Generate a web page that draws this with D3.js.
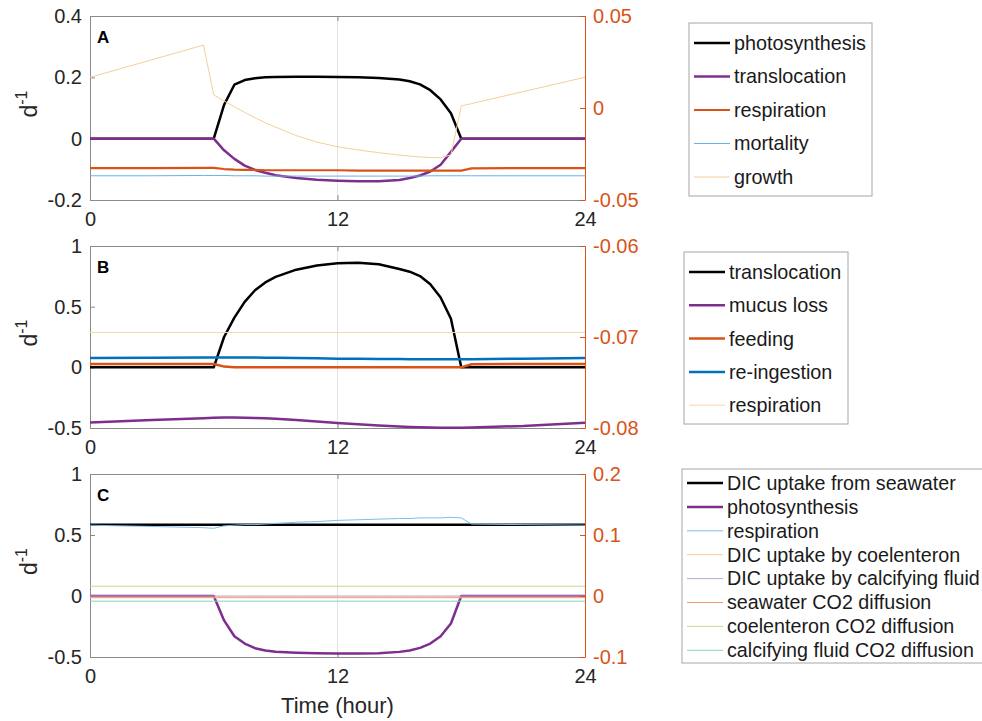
<!DOCTYPE html>
<html>
<head>
<meta charset="utf-8">
<script src="https://cdn.jsdelivr.net/npm/d3@7"></script>
<style>
	body { margin: 0; background: #fff; }
	text { font-family: "Liberation Sans", Arial, Helvetica, sans-serif; }
</style>
</head>
<body>
<div id="chart"></div>
<script>
// time nodes (hour)
var hours = [0, 3, 5.5, 6, 6.5, 7, 7.5, 8, 8.5, 9, 10, 11, 12, 13, 14, 15, 15.5, 16, 16.5, 17, 17.5, 18, 18.5, 21, 24];
var xTicks = [0, 12, 24];

// panel A
var aPhotosynthesis = [0, 0, 0, 0, 0.11, 0.176, 0.191, 0.197, 0.2, 0.201, 0.202, 0.202, 0.201, 0.2, 0.198, 0.193, 0.187, 0.177, 0.158, 0.128, 0.083, 0, 0, 0, 0];
var aTranslocation = [0, 0, 0, 0, -0.038, -0.066, -0.088, -0.102, -0.111, -0.119, -0.128, -0.134, -0.137, -0.139, -0.139, -0.135, -0.128, -0.12, -0.107, -0.085, -0.043, 0, 0, 0, 0];
var aRespiration = [-0.096, -0.096, -0.095, -0.095, -0.099, -0.101, -0.102, -0.102, -0.103, -0.103, -0.103, -0.103, -0.103, -0.104, -0.104, -0.104, -0.104, -0.104, -0.104, -0.104, -0.104, -0.104, -0.097, -0.096, -0.096];
var aMortality = [-0.121, -0.121, -0.12, -0.12, -0.12, -0.121, -0.121, -0.121, -0.122, -0.122, -0.122, -0.122, -0.122, -0.122, -0.122, -0.122, -0.122, -0.122, -0.121, -0.121, -0.121, -0.121, -0.121, -0.121, -0.121];
var aGrowth = [0.0167, 0.0262, 0.0342, 0.0071, 0.0038, 0.0007, -0.0024, -0.0053, -0.008, -0.0104, -0.015, -0.0185, -0.0211, -0.0228, -0.0243, -0.0256, -0.0261, -0.0266, -0.0269, -0.027, -0.0255, 0.0011, 0.0024, 0.0089, 0.0167];
var aLeftTicks = [-0.2, 0, 0.2, 0.4];
var aRightTicks = [-0.05, 0, 0.05];

// panel B
var bTranslocation = [0, 0, 0, 0, 0.25, 0.41, 0.54, 0.635, 0.7, 0.745, 0.805, 0.84, 0.857, 0.862, 0.85, 0.81, 0.788, 0.752, 0.685, 0.575, 0.4, 0, 0, 0, 0];
var bMucus = [-0.455, -0.435, -0.42, -0.416, -0.414, -0.414, -0.415, -0.417, -0.42, -0.424, -0.434, -0.446, -0.458, -0.469, -0.479, -0.488, -0.491, -0.494, -0.496, -0.497, -0.497, -0.497, -0.496, -0.483, -0.456];
var bFeeding = [0.028, 0.028, 0.028, 0.028, 0.006, 0, 0, 0, 0, 0, 0, 0, 0, 0, 0, 0, 0, 0, 0, 0, 0, 0, 0.025, 0.028, 0.028];
var bReingestion = [0.076, 0.079, 0.081, 0.082, 0.082, 0.082, 0.081, 0.081, 0.08, 0.079, 0.077, 0.074, 0.071, 0.07, 0.069, 0.068, 0.067, 0.067, 0.066, 0.066, 0.066, 0.066, 0.067, 0.071, 0.076];
var bRespiration = [-0.0695, -0.0695, -0.0695, -0.0695, -0.0695, -0.0695, -0.0695, -0.0695, -0.0695, -0.0695, -0.0695, -0.0695, -0.0695, -0.0695, -0.0695, -0.0695, -0.0695, -0.0695, -0.0695, -0.0695, -0.0695, -0.0695, -0.0695, -0.0695, -0.0695];
var bLeftTicks = [-0.5, 0, 0.5, 1];
var bRightTicks = [-0.08, -0.07, -0.06];

// panel C
var cDicSeawater = [0.584, 0.584, 0.584, 0.584, 0.584, 0.584, 0.584, 0.584, 0.584, 0.584, 0.584, 0.584, 0.584, 0.584, 0.584, 0.584, 0.584, 0.584, 0.584, 0.584, 0.584, 0.584, 0.584, 0.584, 0.584];
var cPhotosynthesis = [0, 0, 0, 0, -0.2, -0.33, -0.39, -0.428, -0.447, -0.457, -0.465, -0.47, -0.472, -0.472, -0.469, -0.458, -0.446, -0.425, -0.39, -0.33, -0.225, 0, 0, 0, 0];
var cRespiration = [0.116, 0.114, 0.112, 0.111, 0.115, 0.116, 0.117, 0.117, 0.118, 0.119, 0.121, 0.122, 0.124, 0.125, 0.126, 0.127, 0.127, 0.128, 0.128, 0.128, 0.129, 0.128, 0.118, 0.117, 0.116];
var cDicCoelenteron = [-0.003, -0.003, -0.003, -0.003, -0.003, -0.003, -0.003, -0.003, -0.003, -0.003, -0.003, -0.003, -0.003, -0.003, -0.003, -0.003, -0.003, -0.003, -0.003, -0.003, -0.003, -0.003, -0.003, -0.003, -0.003];
var cDicCalcifying = [0, 0, 0, 0, 0, 0, 0, 0, 0, 0, 0, 0, 0, 0, 0, 0, 0, 0, 0, 0, 0, 0, 0, 0, 0];
var cSeawaterCO2 = [-0.002, -0.002, -0.002, -0.002, -0.002, -0.002, -0.002, -0.002, -0.002, -0.002, -0.002, -0.002, -0.002, -0.002, -0.002, -0.002, -0.002, -0.002, -0.002, -0.002, -0.002, -0.002, -0.002, -0.002, -0.002];
var cCoelenteronCO2 = [0.016, 0.016, 0.016, 0.016, 0.016, 0.016, 0.016, 0.016, 0.016, 0.016, 0.016, 0.016, 0.016, 0.016, 0.016, 0.016, 0.016, 0.016, 0.016, 0.016, 0.016, 0.016, 0.016, 0.016, 0.016];
var cCalcifyingCO2 = [-0.0085, -0.0085, -0.0085, -0.0085, -0.0085, -0.0085, -0.0085, -0.0085, -0.0085, -0.0085, -0.0085, -0.0085, -0.0085, -0.0085, -0.0085, -0.0085, -0.0085, -0.0085, -0.0085, -0.0085, -0.0085, -0.0085, -0.0085, -0.0085, -0.0085];
var cLeftTicks = [-0.5, 0, 0.5, 1];
var cRightTicks = [-0.1, 0, 0.1, 0.2];

var W = 982, H = 721;
var left = 90, right = 585;
var rightColor = '#D95319';

var panels = [
	{ label: 'A', top: 16, bottom: 200, yL: [-0.2, 0.4], yR: [-0.05, 0.05], ticksL: aLeftTicks, ticksR: aRightTicks,
	  legend: { x: 689, y: 23, w: 183, h: 173, first: 43, row: 33.5, size: 19.8 },
	  series: [
		{ name: 'photosynthesis', v: aPhotosynthesis, axis: 'L', color: '#000000', w: 2.5 },
		{ name: 'translocation', v: aTranslocation, axis: 'L', color: '#7E2F8E', w: 2.5 },
		{ name: 'respiration', v: aRespiration, axis: 'L', color: '#D95319', w: 2.2 },
		{ name: 'mortality', v: aMortality, axis: 'L', color: '#6cb2e4', w: 1 },
		{ name: 'growth', v: aGrowth, axis: 'R', color: '#f4cf9c', w: 1 }
	  ] },
	{ label: 'B', top: 246, bottom: 428, yL: [-0.5, 1], yR: [-0.08, -0.06], ticksL: bLeftTicks, ticksR: bRightTicks,
	  legend: { x: 684, y: 252, w: 164, h: 172, first: 272, row: 33.3, size: 19.8 },
	  series: [
		{ name: 'translocation', v: bTranslocation, axis: 'L', color: '#000000', w: 2.5 },
		{ name: 'mucus loss', v: bMucus, axis: 'L', color: '#7E2F8E', w: 2.5 },
		{ name: 'feeding', v: bFeeding, axis: 'L', color: '#D95319', w: 2.5 },
		{ name: 're-ingestion', v: bReingestion, axis: 'L', color: '#0072BD', w: 2.5 },
		{ name: 'respiration', v: bRespiration, axis: 'R', color: '#f8d6a8', w: 1 }
	  ] },
	{ label: 'C', top: 474, bottom: 657, yL: [-0.5, 1], yR: [-0.1, 0.2], ticksL: cLeftTicks, ticksR: cRightTicks,
	  legend: { x: 682, y: 469, w: 310, h: 194, first: 483, row: 23.9, size: 19.7 },
	  series: [
		{ name: 'DIC uptake from seawater', v: cDicSeawater, axis: 'L', color: '#000000', w: 2.5 },
		{ name: 'photosynthesis', v: cPhotosynthesis, axis: 'L', color: '#7E2F8E', w: 2.5 },
		{ name: 'respiration', v: cRespiration, axis: 'R', color: '#7fbde8', w: 1 },
		{ name: 'DIC uptake by coelenteron', v: cDicCoelenteron, axis: 'R', color: '#f7cf92', w: 1 },
		{ name: 'DIC uptake by calcifying fluid', v: cDicCalcifying, axis: 'R', color: '#b7a6de', w: 1 },
		{ name: 'seawater CO2 diffusion', v: cSeawaterCO2, axis: 'R', color: '#f29a78', w: 1 },
		{ name: 'coelenteron CO2 diffusion', v: cCoelenteronCO2, axis: 'R', color: '#c3da93', w: 1 },
		{ name: 'calcifying fluid CO2 diffusion', v: cCalcifyingCO2, axis: 'R', color: '#86d4bd', w: 1 }
	  ] }
];

var svg = d3.select('#chart').append('svg')
	.attr('width', W)
	.attr('height', H);

var x = d3.scaleLinear().domain([0, 24]).range([left, right]);

panels.forEach(function(p) {
	var yL = d3.scaleLinear().domain(p.yL).range([p.bottom, p.top]);
	var yR = d3.scaleLinear().domain(p.yR).range([p.bottom, p.top]);
	var g = svg.append('g');

	// grid line at 12 h
	g.append('line')
		.attr('x1', x(12)).attr('x2', x(12))
		.attr('y1', p.top).attr('y2', p.bottom)
		.attr('stroke', '#e3e3e3').attr('stroke-width', 1);

	// top border with tick marks
	var topAx = g.append('g')
		.attr('transform', 'translate(0,' + p.top + ')')
		.call(d3.axisTop(x).tickValues(xTicks).tickSize(-5).tickSizeOuter(0).tickFormat(''));
	topAx.select('.domain').attr('stroke', '#8a8a8a');
	topAx.selectAll('line').attr('stroke', '#8a8a8a');

	var bot = g.append('g')
		.attr('transform', 'translate(0,' + p.bottom + ')')
		.call(d3.axisBottom(x).tickValues(xTicks).tickSize(-5).tickSizeOuter(0).tickPadding(12).tickFormat(String));
	bot.select('.domain').attr('stroke', '#8a8a8a');
	bot.selectAll('line').attr('stroke', '#8a8a8a');
	bot.selectAll('text').attr('font-size', 20).attr('fill', '#262626')
		.attr('font-family', '"Liberation Sans", Arial, sans-serif');

	var la = g.append('g')
		.attr('transform', 'translate(' + left + ',0)')
		.call(d3.axisLeft(yL).tickValues(p.ticksL).tickSize(-5).tickSizeOuter(0).tickPadding(8).tickFormat(String));
	la.select('.domain').attr('stroke', '#8a8a8a');
	la.selectAll('line').attr('stroke', '#8a8a8a');
	la.selectAll('text').attr('font-size', 20).attr('fill', '#262626')
		.attr('font-family', '"Liberation Sans", Arial, sans-serif');

	// lines
	p.series.forEach(function(s) {
		var yy = s.axis === 'L' ? yL : yR;
		var line = d3.line()
			.x(function(d, i) { return x(hours[i]); })
			.y(function(d) { return yy(d); });
		g.append('path')
			.datum(s.v)
			.attr('d', line)
			.attr('fill', 'none')
			.attr('stroke', s.color)
			.attr('stroke-width', s.w)
			.attr('stroke-linejoin', 'round');
	});

	var ra = g.append('g')
		.attr('transform', 'translate(' + right + ',0)')
		.call(d3.axisRight(yR).tickValues(p.ticksR).tickSize(-5).tickSizeOuter(0).tickPadding(8).tickFormat(String));
	ra.select('.domain').attr('stroke', rightColor);
	ra.selectAll('line').attr('stroke', rightColor);
	ra.selectAll('text').attr('font-size', 20).attr('fill', rightColor)
		.attr('font-family', '"Liberation Sans", Arial, sans-serif');

	// panel letter
	g.append('text')
		.attr('x', 97).attr('y', p.top + 27)
		.attr('font-size', 17).attr('font-weight', 'bold')
		.text(p.label);

	// y label d^-1
	var cy = (p.top + p.bottom) / 2 - 4;
	var yl = g.append('text')
		.attr('transform', 'translate(37,' + cy + ') rotate(-90)')
		.attr('text-anchor', 'middle')
		.attr('font-size', 23)
		.attr('fill', '#262626');
	yl.append('tspan').text('d');
	yl.append('tspan').attr('font-size', 16).attr('dy', -10).text('-1');

	// legend
	var L = p.legend;
	var lg = g.append('g');
	lg.append('rect')
		.attr('x', L.x).attr('y', L.y)
		.attr('width', L.w).attr('height', L.h)
		.attr('fill', '#fff').attr('stroke', '#a6a6a6').attr('stroke-width', 1);
	p.series.forEach(function(s, i) {
		var ly = L.first + i * L.row;
		lg.append('line')
			.attr('x1', L.x + 5).attr('x2', L.x + 41)
			.attr('y1', ly).attr('y2', ly)
			.attr('stroke', s.color).attr('stroke-width', s.w);
		lg.append('text')
			.attr('x', L.x + 45).attr('y', ly)
			.attr('dy', '0.35em')
			.attr('font-size', L.size)
			.attr('fill', '#1a1a1a')
			.text(s.name);
	});
});

svg.append('text')
	.attr('x', (left + right) / 2).attr('y', 713)
	.attr('text-anchor', 'middle')
	.attr('font-size', 22)
	.attr('fill', '#262626')
	.text('Time (hour)');
</script>
</body>
</html>
